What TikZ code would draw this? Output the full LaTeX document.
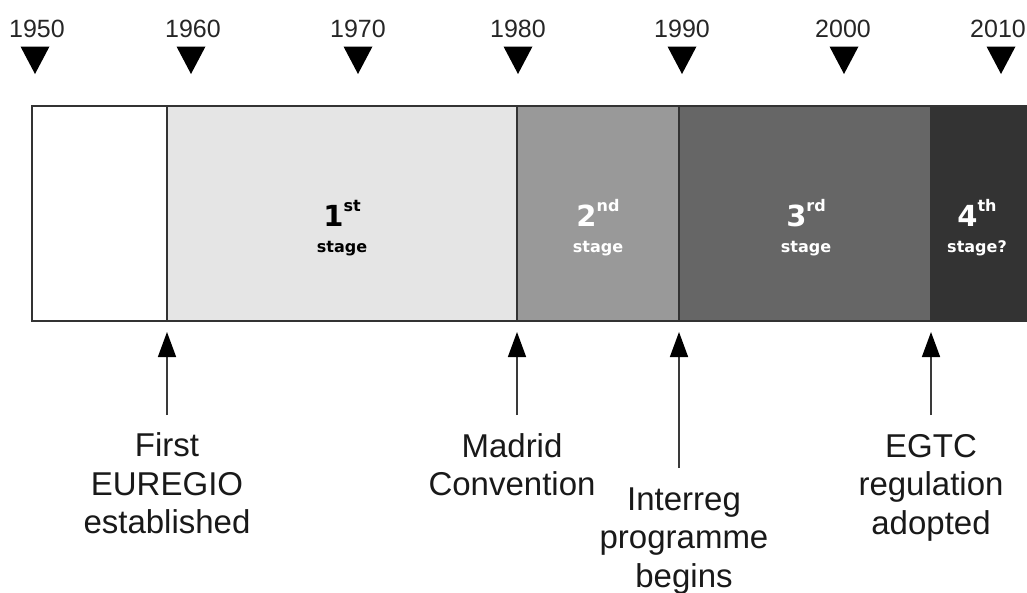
\documentclass[tikz,border=0pt]{standalone}
\usepackage{fontspec}
\setmainfont{Liberation Sans}
\newfontfamily\stagefont{DejaVu Sans}
\usetikzlibrary{arrows.meta}
\definecolor{framec}{HTML}{333333}
\definecolor{segA}{HTML}{FFFFFF}
\definecolor{segB}{HTML}{E5E5E5}
\definecolor{segC}{HTML}{999999}
\definecolor{segD}{HTML}{666666}
\definecolor{segE}{HTML}{333333}
\definecolor{arrowc}{HTML}{3A3A3A}
\begin{document}
\begin{tikzpicture}[x=1pt,y=-1pt,
  yearlbl/.style={anchor=base,inner sep=0pt,font=\fontsize{25}{28}\selectfont,text=black!85},
  marker/.style={fill=black},
  segment/.style={draw=framec,line width=1.5pt},
  evarrow/.style={draw=arrowc,line width=1.5pt,-{Triangle[width=18pt,length=25pt,color=black]}},
  evlbl/.style={anchor=base,inner sep=0pt,align=center,font=\fontsize{33}{38.5}\selectfont,text=black!90},
  stagenum/.style={anchor=base,inner sep=0pt,font=\stagefont\bfseries\fontsize{29}{30}\selectfont},
  stagelbl/.style={anchor=base,inner sep=0pt,font=\stagefont\bfseries\fontsize{16}{18}\selectfont}
]
\useasboundingbox (0,0) rectangle (1027,592);

% year markers
\foreach \yr/\tx/\mx in {1950/37/35,1960/193/191,1970/358/358,1980/518/518,1990/682/682,2000/843/844,2010/998/1001}{
  \node[yearlbl] (y\yr) at (\tx,37) {\yr};
  \fill[marker] ({\mx-14.5},46.5) -- ({\mx+14.5},46.5) -- (\mx,74) -- cycle;
}

% timeline segments
\draw[segment,fill=segA] (32,106) rectangle (167,321);
\draw[segment,fill=segB] (167,106) rectangle (517,321);
\draw[segment,fill=segC] (517,106) rectangle (679,321);
\draw[segment,fill=segD] (679,106) rectangle (931,321);
\draw[segment,fill=segE] (931,106) rectangle (1040,321);

% stage labels
\newcommand{\supx}[1]{\raisebox{15pt}{\fontsize{16}{18}\selectfont #1}}
\node[stagenum,text=black] (s1n) at (342,226.5) {1\supx{st}};
\node[stagelbl,text=black] (s1l) at (342,252) {stage};
\node[stagenum,text=white] (s2n) at (598,226.5) {2\supx{nd}};
\node[stagelbl,text=white] (s2l) at (598,252) {stage};
\node[stagenum,text=white] (s3n) at (806,226.5) {3\supx{rd}};
\node[stagelbl,text=white] (s3l) at (806,252) {stage};
\node[stagenum,text=white] (s4n) at (977,226.5) {4\supx{th}};
\node[stagelbl,text=white] (s4l) at (977,252) {stage?};

% event arrows
\coordinate (e1t) at (167,332); \coordinate (e1b) at (167,415);
\coordinate (e2t) at (517,332); \coordinate (e2b) at (517,415);
\coordinate (e3t) at (679,332); \coordinate (e3b) at (679,468);
\coordinate (e4t) at (931,332); \coordinate (e4b) at (931,415);
\draw[evarrow] (e1b) -- (e1t);
\draw[evarrow] (e2b) -- (e2t);
\draw[evarrow] (e3b) -- (e3t);
\draw[evarrow] (e4b) -- (e4t);

% event labels (base anchor = baseline of the last line)
\node[evlbl] (ev1) at (167,533.5) {First\\EUREGIO\\established};
\node[evlbl] (ev2) at (512,495.5) {Madrid\\Convention};
\node[evlbl] (ev3) at (684,587) {Interreg\\programme\\begins};
\node[evlbl] (ev4) at (931,534) {EGTC\\regulation\\adopted};
\end{tikzpicture}
\end{document}
